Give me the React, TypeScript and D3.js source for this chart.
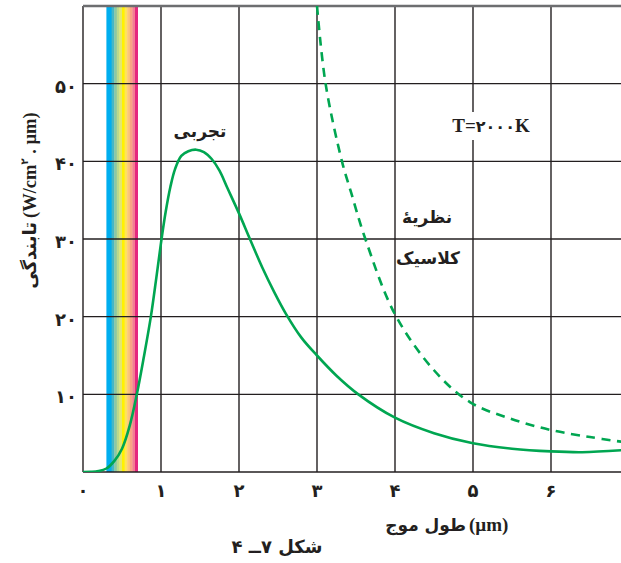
import React from "react";
import * as d3 from "d3";

const W = 621;
const H = 563;

// Data
const xTicks = [0, 1, 2, 3, 4, 5, 6];
const xTickLabels = ["۰", "۱", "۲", "۳", "۴", "۵", "۶"];
const yTicks = [10, 20, 30, 40, 50];
const yTickLabels = ["۱۰", "۲۰", "۳۰", "۴۰", "۵۰"];

// experimental curve (λ µm, radiance)
const expLambda = [0, 0.1, 0.2, 0.3, 0.4, 0.5, 0.6, 0.69, 0.78, 0.87, 0.94, 1.0, 1.06, 1.12, 1.18, 1.26, 1.35, 1.45, 1.55, 1.65, 1.75, 1.85, 2.0, 2.14, 2.3, 2.45, 2.6, 2.8, 3.0, 3.25, 3.53, 4.0, 4.5, 5.0, 5.5, 6.0, 6.4, 6.9];
const expValue = [0, 0.02, 0.12, 0.45, 1.4, 3.0, 6.0, 10, 14.8, 20, 25, 29.5, 33.5, 36.7, 39.0, 40.7, 41.3, 41.5, 41.2, 40.3, 38.8, 36.6, 33.3, 30, 26.3, 23.2, 20.4, 17.3, 15.0, 12.4, 10.0, 7.0, 5.0, 3.7, 3.0, 2.65, 2.55, 2.8];

// classical theory curve
const clsLambda = [3.0, 3.11, 3.32, 3.44, 3.62, 4.0, 4.5, 4.96, 5.47, 6.0, 6.5, 6.9];
const clsValue = [60, 50, 40, 35.9, 30, 20.3, 13.1, 9.0, 6.9, 5.4, 4.5, 3.9];

// visible spectrum band
const spectrumRange = [0.3, 0.7];
const spectrumColors = ["#00AEEF", "#00AEEF", "#45B6C6", "#8CC7A4", "#BCD98A", "#E3E86E", "#FFF200", "#FFE35A", "#FCC678", "#F9A584", "#F37E93", "#E5287F"];

const GREEN = "#00A651";
const GRID = "#231F20";
const ARFONT = "'DejaVu Sans', sans-serif";
const LATFONT = "'Liberation Serif', 'DejaVu Serif', 'DejaVu Sans', serif";

export default function App() {
  const x = d3.scaleLinear().domain([0, 7]).range([83, 83 + 7 * 78]);
  const y = d3.scaleLinear().domain([0, 60]).range([472, 6]);

  const expPts: [number, number][] = expLambda.map((l, i) => [x(l), y(expValue[i])]);
  const clsPts: [number, number][] = clsLambda.map((l, i) => [x(l), y(clsValue[i])]);
  const gen = d3.line().curve(d3.curveCatmullRom.alpha(0.5));

  const sw = (x(spectrumRange[1]) - x(spectrumRange[0])) / spectrumColors.length;

  return (
    <svg
      width={W}
      height={H}
      style={{ position: "fixed", left: 0, top: 0, background: "#fff" }}
    >
      <defs>
        <clipPath id="plot">
          <rect x={x(0)} y={y(60)} width={W - x(0)} height={y(0) - y(60)} />
        </clipPath>
      </defs>
      <rect x={0} y={0} width={W} height={H} fill="#fff" />
      {/* spectrum band */}
      {spectrumColors.map((c, i) => (
        <rect
          key={i}
          x={x(spectrumRange[0]) + i * sw}
          y={y(60)}
          width={sw + 0.4}
          height={y(0) - y(60)}
          fill={c}
        />
      ))}
      {/* grid */}
      {xTicks.map((t) => (
        <line key={"v" + t} x1={x(t)} x2={x(t)} y1={y(60)} y2={y(0)} stroke={GRID} strokeWidth={1.4} />
      ))}
      {yTicks.map((t) => (
        <line key={"h" + t} x1={x(0)} x2={W} y1={y(t)} y2={y(t)} stroke={GRID} strokeWidth={1.4} />
      ))}
      <line x1={x(0)} x2={W} y1={y(0)} y2={y(0)} stroke={GRID} strokeWidth={1.6} />
      <line x1={x(0)} x2={W} y1={y(60)} y2={y(60)} stroke="#6D6E70" strokeWidth={2.4} />
      {/* T label with white backing */}
      <rect x={443} y={112} width={96} height={28} fill="#fff" />
      <text
        x={491}
        y={132}
        textAnchor="middle"
        fontFamily={LATFONT}
        fontWeight="bold"
        fontSize={19}
        fill="#231F20"
        direction="ltr"
      >
        T=<tspan fontFamily={ARFONT} fontSize={16} letterSpacing={1.5}>۲۰۰۰</tspan>K
      </text>
      {/* curves */}
      <g clipPath="url(#plot)">
        <path d={gen(expPts) || ""} fill="none" stroke={GREEN} strokeWidth={2.6} />
        <path d={gen(clsPts) || ""} fill="none" stroke={GREEN} strokeWidth={2.6} strokeDasharray="9 6.5" />
      </g>
      {/* curve labels */}
      <text x={200} y={137} textAnchor="middle" fontFamily={ARFONT} fontWeight="bold" fontSize={17} fill="#231F20">
        تجربی
      </text>
      <text x={427} y={223} textAnchor="middle" fontFamily={ARFONT} fontWeight="bold" fontSize={17} fill="#231F20">
        نظریهٔ
      </text>
      <text x={428} y={264} textAnchor="middle" fontFamily={ARFONT} fontWeight="bold" fontSize={17} fill="#231F20">
        کلاسیک
      </text>
      {/* x tick labels */}
      {xTicks.map((t, i) => (
        <text
          key={"xl" + t}
          x={x(t)}
          y={497}
          textAnchor="middle"
          fontFamily={ARFONT}
          fontWeight="bold"
          fontSize={18}
          fill="#231F20"
        >
          {xTickLabels[i]}
        </text>
      ))}
      {/* y tick labels */}
      {yTicks.map((t, i) => (
        <text
          key={"yl" + t}
          x={77}
          y={y(t) + 9}
          textAnchor="end"
          fontFamily={ARFONT}
          fontWeight="bold"
          fontSize={18}
          letterSpacing={1}
          fill="#231F20"
        >
          {yTickLabels[i]}
        </text>
      ))}
      {/* x axis title */}
      <text x={466} y={531} textAnchor="end" fontFamily={ARFONT} fontWeight="bold" fontSize={17} fill="#231F20">
        طول موج
      </text>
      <text x={469} y={531} textAnchor="start" fontFamily={LATFONT} fontWeight="bold" fontSize={19} fill="#231F20">
        (µm)
      </text>
      {/* y axis title */}
      <g transform="translate(36,191) rotate(-90)">
        <text x={-31} y={0} textAnchor="end" fontFamily={ARFONT} fontWeight="bold" fontSize={18} fill="#231F20">
          تابندگی
        </text>
        <text x={-27} y={0} textAnchor="start" fontFamily={LATFONT} fontWeight="bold" fontSize={18.5} fill="#231F20">
          (W/cm<tspan fontFamily={ARFONT} fontSize={10} dy={-8}>۲</tspan>
          <tspan dy={8}> . µm)</tspan>
        </text>
      </g>
      {/* caption */}
      <text x={277} y={553} textAnchor="middle" fontFamily={ARFONT} fontWeight="bold" fontSize={18} fill="#231F20" direction="rtl">
        شکل ۷ــ ۴
      </text>
    </svg>
  );
}
